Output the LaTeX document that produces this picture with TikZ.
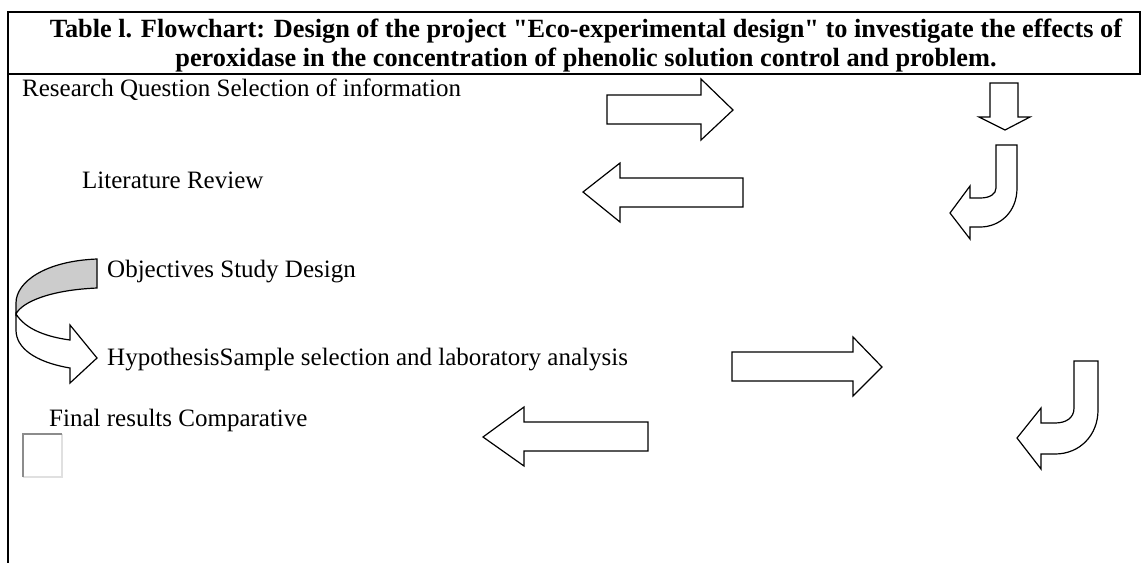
\documentclass[tikz,border=0pt]{standalone}
\usepackage{fontspec}
\setmainfont{Liberation Serif}
\newfontfamily\ttlfont{Liberation Serif}
\begin{document}
\begin{tikzpicture}[x=1pt,y=-1pt]
\useasboundingbox (0,0) rectangle (1142,563);
\tikzset{
  shp/.style={draw=black, line width=1.2pt, fill=white, line join=miter},
  lbl/.style={anchor=base west, inner sep=0pt, font=\fontsize{25}{29}\selectfont},
  ttl/.style={anchor=base, inner sep=0pt, font=\ttlfont\bfseries\fontsize{26.3}{30}\selectfont},
  rulel/.style={line width=2.2pt}
}
% frame
\draw[rulel] (7,12) -- (1141,12);
\draw[rulel] (7,74) -- (1141,74);
\draw[rulel] (8,11) -- (8,563);
\draw[rulel] (1140,11) -- (1140,75);
% title
\node[ttl] (title1) at (586,37)
  {Table l. Flowchart: Design of the project "Eco-experimental design" to investigate the effects of};
\node[ttl] (title2) at (586,66)
  {peroxidase in the concentration of phenolic solution control and problem.};
% labels
\node[lbl] (rq) at (22,96) {Research Question Selection of information};
\node[lbl] (lr) at (82,188) {Literature Review};
\node[lbl] (obj) at (107,277) {Objectives Study Design};
\node[lbl] (hyp) at (107,365) {HypothesisSample selection and laboratory analysis};
\node[lbl] (fin) at (49,426) {Final results Comparative};
% straight arrows
\draw[shp] (607,95) -- (701,95) -- (701,79) -- (733,110) -- (701,140) -- (701,124) -- (607,124) -- cycle;
\draw[shp] (990,83) -- (1018,83) -- (1018,117) -- (1030,117) -- (1005,130) -- (979,117) -- (990,117) -- cycle;
\draw[shp] (743,178) -- (620,178) -- (620,163) -- (583,192) -- (620,222) -- (620,207) -- (743,207) -- cycle;
\draw[shp] (732,352) -- (853,352) -- (853,337) -- (882,367) -- (853,396) -- (853,381) -- (732,381) -- cycle;
\draw[shp] (648,422) -- (524,422) -- (524,407) -- (483,437) -- (524,466) -- (524,451) -- (648,451) -- cycle;
% bent arrows
\draw[shp] (996,145) -- (1017,145) -- (1017,188) .. controls (1017,212) and (1000,227) .. (980,227)
  -- (970,227) -- (970,239) -- (950,213) -- (970,186) -- (970,198) -- (980,198)
  .. controls (990,198) and (996,194) .. (996,188) -- cycle;
\draw[shp] (1074,361) -- (1098,361) -- (1098,410) .. controls (1098,435) and (1080,454) .. (1055,454)
  -- (1041,454) -- (1041,469) -- (1017,438) -- (1041,408) -- (1041,423) -- (1055,423)
  .. controls (1066,423) and (1074,418) .. (1074,408) -- cycle;
% curved arrow
\draw[shp] (16,314) .. controls (26,330) and (48,337) .. (70,340) -- (70,325) -- (97,358) -- (70,383) -- (70,368)
  .. controls (35,362) and (16,348) .. (16,330) -- cycle;
\draw[shp, fill=black!20] (97,259) .. controls (45,261) and (16,282) .. (16,303) -- (16,314)
  .. controls (22,302) and (50,290) .. (97,288) -- cycle;
% small box
\fill[white] (23,434) rectangle (62,477);
\draw[line width=1.5pt, black!12] (23,477) -- (62,477) -- (62,434);
\draw[line width=1.5pt, black!45] (23,477) -- (23,434) -- (62,434);
\end{tikzpicture}
\end{document}
